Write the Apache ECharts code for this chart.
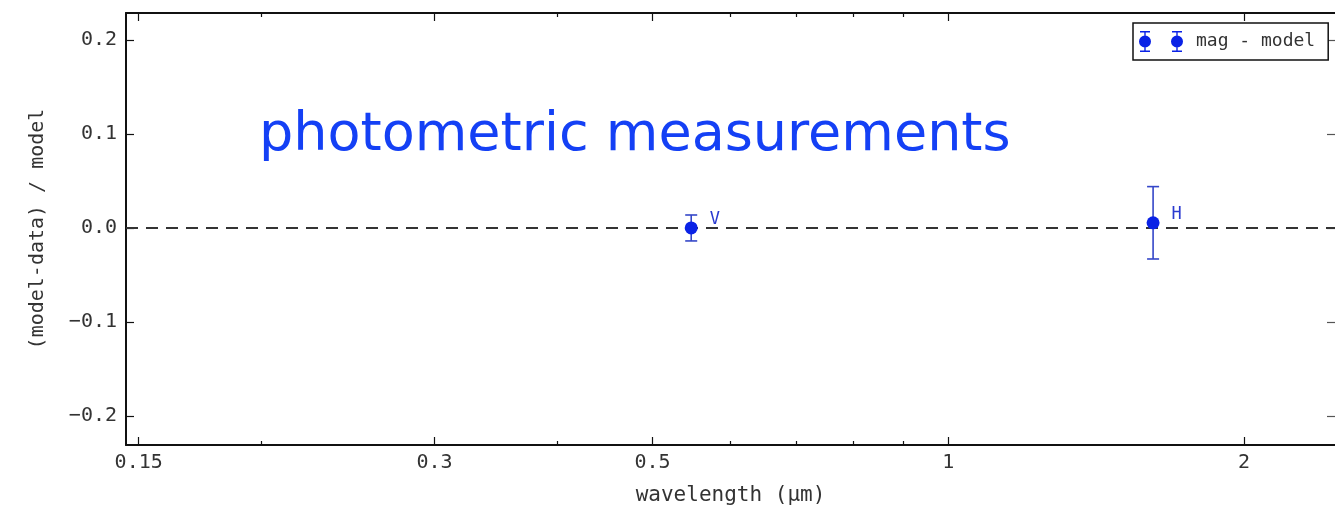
<!DOCTYPE html>
<html>
<head>
<meta charset="utf-8">
<script src="https://cdn.jsdelivr.net/npm/echarts@6/dist/echarts.min.js"></script>
<style>
html,body{margin:0;padding:0;background:#fff;}
#chart{width:1335px;height:511px;}
</style>
</head>
<body>
<div id="chart"></div>
<script>
// ---- data ----
const bands = ['V', 'H'];
const wavelengths = [0.5475, 1.616];     // micron
const residuals = [0.0, 0.0055];        // (model-data)/model
const errors = [0.0138, 0.0385];

const xMajorTicks = [0.15, 0.3, 0.5, 1, 2];
const xMinorTicks = [0.2, 0.4, 0.6, 0.7, 0.8, 0.9];
const yTicks = [-0.2, -0.1, 0.0, 0.1, 0.2];

const xRange = [0.1456, 2.475];
const yRange = [-0.2309, 0.2287];

const seriesName = 'mag - model';
const titleText = 'photometric measurements';
const xName = 'wavelength (\u03bcm)';
const yName = '(model-data) / model';

// ---- chart ----
const mono = 'DejaVu Sans Mono';
const ink = '#111';
const blue = '#0a22e6';
const barBlue = '#3446c8';

const points = wavelengths.map((w, i) => [w, residuals[i], bands[i]]);
const errData = wavelengths.map((w, i) => [w, residuals[i] - errors[i], residuals[i] + errors[i]]);

function fmtX(v) {
  return String(+v.toFixed(2));
}

const baseX = {
  type: 'log', min: xRange[0], max: xRange[1], logBase: 10,
  splitLine: {show: false}, minorTick: {show: false}
};

const chart = echarts.init(document.getElementById('chart'), null, {renderer: 'canvas'});
chart.setOption({
  animation: false,
  backgroundColor: '#fff',
  title: {
    text: titleText, left: 254, top: 104,
    textStyle: {fontFamily: 'DejaVu Sans', fontWeight: 'normal', fontSize: 54, color: '#1440f5'}
  },
  legend: {
    left: 1133, top: 23,
    orient: 'horizontal',
    padding: [8, 13, 8, 6],
    borderColor: '#111', borderWidth: 1.5, borderRadius: 0,
    backgroundColor: '#fff',
    itemWidth: 44, itemHeight: 22,
    data: [{
      name: seriesName,
      icon: 'path://M5.3 1.5 H6.7 V20.5 H5.3 Z M1 0.5 H11 V2 H1 Z M1 20 H11 V21.5 H1 Z M0 11 A6 6 0 1 1 12 11 A6 6 0 1 1 0 11 Z M37.3 1.5 H38.7 V20.5 H37.3 Z M33 0.5 H43 V2 H33 Z M33 20 H43 V21.5 H33 Z M32 11 A6 6 0 1 1 44 11 A6 6 0 1 1 32 11 Z',
      itemStyle: {color: blue, opacity: 1}
    }],
    textStyle: {fontFamily: mono, fontSize: 18, color: '#333', padding: [0, 0, 0, 8]}
  },
  grid: {left: 126, top: 13, right: -1, bottom: 65, show: false},
  xAxis: [
    Object.assign({}, baseX, {
      position: 'bottom',
      name: xName, nameLocation: 'middle', nameGap: 40,
      nameTextStyle: {fontFamily: mono, fontSize: 21, color: '#333'},
      axisLine: {show: true, onZero: false, lineStyle: {color: ink, width: 2}},
      axisTick: {show: true, inside: true, length: 8, customValues: xMajorTicks, lineStyle: {color: ink, width: 1.2}},
      axisLabel: {show: true, customValues: xMajorTicks, formatter: fmtX, margin: 8,
        fontFamily: mono, fontSize: 20, color: '#333'}
    }),
    Object.assign({}, baseX, {
      position: 'bottom',
      axisLine: {show: false, onZero: false},
      axisTick: {show: true, inside: true, length: 4, customValues: xMinorTicks, lineStyle: {color: ink, width: 1.2}},
      axisLabel: {show: false}
    }),
    Object.assign({}, baseX, {
      position: 'top',
      axisLine: {show: true, onZero: false, lineStyle: {color: ink, width: 2}},
      axisTick: {show: true, inside: true, length: 8, customValues: xMajorTicks, lineStyle: {color: ink, width: 1.2}},
      axisLabel: {show: false}
    }),
    Object.assign({}, baseX, {
      position: 'top',
      axisLine: {show: false, onZero: false},
      axisTick: {show: true, inside: true, length: 4, customValues: xMinorTicks, lineStyle: {color: ink, width: 1.2}},
      axisLabel: {show: false}
    })
  ],
  yAxis: [
    {
      type: 'value', position: 'left', min: yRange[0], max: yRange[1],
      name: yName, nameLocation: 'middle', nameGap: 78, nameRotate: 90,
      nameTextStyle: {fontFamily: mono, fontSize: 20, color: '#333'},
      splitLine: {show: false},
      axisLine: {show: true, onZero: false, lineStyle: {color: ink, width: 2}},
      axisTick: {show: true, inside: true, length: 8, customValues: yTicks, lineStyle: {color: ink, width: 1.2}},
      axisLabel: {show: true, customValues: yTicks, margin: 9,
        formatter: v => (v < 0 ? '\u2212' : '') + Math.abs(v).toFixed(1),
        fontFamily: mono, fontSize: 20, color: '#333'}
    },
    {
      type: 'value', position: 'right', min: yRange[0], max: yRange[1],
      splitLine: {show: false},
      axisLine: {show: true, onZero: false, lineStyle: {color: '#ccc', width: 1}},
      axisTick: {show: true, inside: true, length: 8, customValues: yTicks, lineStyle: {color: '#555', width: 1.2}},
      axisLabel: {show: false}
    }
  ],
  series: [
    {
      type: 'custom',
      name: 'err',
      xAxisIndex: 0, yAxisIndex: 0,
      data: errData,
      silent: true,
      z: 3,
      renderItem: function (params, api) {
        const x = api.value(0);
        const lo = api.coord([x, api.value(1)]);
        const hi = api.coord([x, api.value(2)]);
        const cap = 6;
        const style = {stroke: barBlue, lineWidth: 1.6, fill: null};
        return {
          type: 'group',
          children: [
            {type: 'line', shape: {x1: lo[0], y1: lo[1], x2: hi[0], y2: hi[1]}, style: style},
            {type: 'line', shape: {x1: lo[0] - cap, y1: lo[1], x2: lo[0] + cap, y2: lo[1]}, style: style},
            {type: 'line', shape: {x1: hi[0] - cap, y1: hi[1], x2: hi[0] + cap, y2: hi[1]}, style: style}
          ]
        };
      }
    },
    {
      type: 'scatter',
      name: seriesName,
      xAxisIndex: 0, yAxisIndex: 0,
      data: points,
      symbol: 'circle',
      symbolSize: 13,
      itemStyle: {color: blue, opacity: 1},
      z: 4,
      label: {
        show: true, position: 'right', distance: 12,
        formatter: p => p.value[2],
        fontFamily: mono, fontSize: 17, color: '#2a3ad0',
        offset: [0, -8]
      },
      markLine: {
        silent: true,
        symbol: 'none',
        label: {show: false},
        lineStyle: {type: [12, 8], color: '#333', width: 2},
        data: [{yAxis: 0}],
        z: 2
      }
    }
  ]
});
</script>
</body>
</html>
